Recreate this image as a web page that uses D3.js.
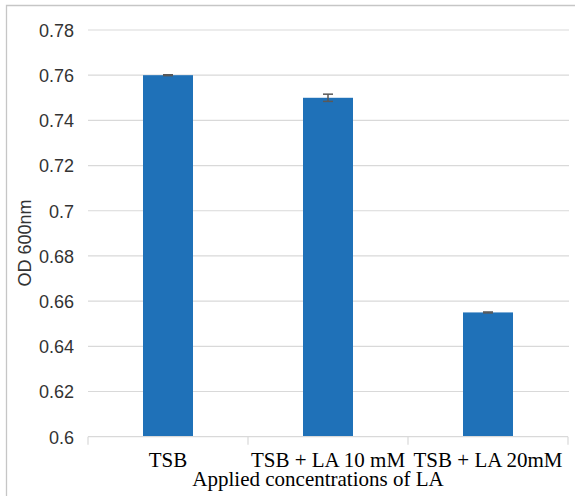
<!DOCTYPE html>
<html><head><meta charset="utf-8">
<script src="https://cdn.jsdelivr.net/npm/d3@7"></script>
<style>
html,body{margin:0;padding:0;background:#fff;}
svg{display:block;}
</style></head>
<body>
<svg id="chart" width="575" height="496"></svg>
<script>
const categories = ["TSB", "TSB + LA 10 mM", "TSB + LA 20mM"];
const values = [0.760, 0.750, 0.655];
const errors = [0.0002, 0.0016, 0.0002];
const yTicks = [0.6, 0.62, 0.64, 0.66, 0.68, 0.7, 0.72, 0.74, 0.76, 0.78];
const yTitle = "OD 600nm";
const xTitle = "Applied concentrations of LA";

const svg = d3.select("#chart");
const W = 575, H = 496;
const plot = {left: 88, right: 568, top: 30, bottom: 436.7};

// frame
svg.append("path")
  .attr("d", `M6.5,${H} L6.5,5.5 L${W},5.5`)
  .attr("fill", "none").attr("stroke", "#c6c6c6").attr("stroke-width", 1.3);

const x = d3.scaleBand().domain(categories).range([plot.left, plot.right]).paddingInner(0).paddingOuter(0);
const y = d3.scaleLinear().domain([0.6, 0.78]).range([plot.bottom, plot.top]);

// gridlines
svg.append("g").selectAll("line").data(yTicks.filter(d => d > 0.6)).join("line")
  .attr("x1", plot.left).attr("x2", plot.right + 1)
  .attr("y1", d => y(d)).attr("y2", d => y(d))
  .attr("stroke", "#d9d9d9").attr("stroke-width", 1.2);

// y axis labels
const yAxis = d3.axisLeft(y).tickValues(yTicks).tickSize(0).tickPadding(0)
  .tickFormat(d => d3.format("")(+d.toFixed(2)));
const gy = svg.append("g").attr("transform", `translate(74,0)`).call(yAxis);
gy.select(".domain").remove();
gy.selectAll("text").attr("font-family", "'Liberation Sans', Arial, sans-serif")
  .attr("font-size", 18).attr("fill", "#333").attr("dy", "0.35em");

// bars
const barW = 50;
svg.append("g").selectAll("rect").data(categories).join("rect")
  .attr("x", d => x(d) + x.bandwidth() / 2 - barW / 2)
  .attr("width", barW)
  .attr("y", (d, i) => y(values[i]))
  .attr("height", (d, i) => y(0.6) - y(values[i]))
  .attr("fill", "#1f71b8");

// error bars
const eg = svg.append("g").attr("stroke", "#595959").attr("stroke-width", 1.5);
categories.forEach((c, i) => {
  const cx = x(c) + x.bandwidth() / 2;
  const y1 = y(values[i] + errors[i]), y2 = y(values[i] - errors[i]);
  eg.append("line").attr("x1", cx).attr("x2", cx).attr("y1", y1).attr("y2", y2);
  eg.append("line").attr("x1", cx - 5).attr("x2", cx + 5).attr("y1", y1).attr("y2", y1);
  eg.append("line").attr("x1", cx - 5).attr("x2", cx + 5).attr("y1", y2).attr("y2", y2);
});

// x axis
const xAxis = d3.axisBottom(x).tickSize(0).tickPadding(0);
const gx = svg.append("g").attr("transform", `translate(0,${plot.bottom})`).call(xAxis);
gx.select(".domain").attr("stroke", "#d9d9d9").attr("stroke-width", 1.2)
  .attr("d", `M${plot.left},0H${plot.right}`);
gx.selectAll("text").attr("font-family", "'Liberation Serif', 'Times New Roman', serif")
  .attr("font-size", 21).attr("fill", "#000").attr("y", 30.5).attr("dy", 0);
// category boundary ticks
const bounds = categories.map(c => x(c)).concat([x(categories[categories.length - 1]) + x.bandwidth()]);
gx.append("g").selectAll("line").data(bounds).join("line")
  .attr("x1", d => d).attr("x2", d => d).attr("y1", 0).attr("y2", 8)
  .attr("stroke", "#d9d9d9").attr("stroke-width", 1.2);

// titles
svg.append("text").attr("x", 318).attr("y", 486).attr("text-anchor", "middle")
  .attr("font-family", "'Liberation Serif', 'Times New Roman', serif").attr("font-size", 21)
  .attr("fill", "#000").text(xTitle);
svg.append("text").attr("transform", "translate(31,243) rotate(-90)").attr("text-anchor", "middle")
  .attr("font-family", "'Liberation Sans', Arial, sans-serif").attr("font-size", 18)
  .attr("fill", "#333").text(yTitle);
</script>
</body></html>
